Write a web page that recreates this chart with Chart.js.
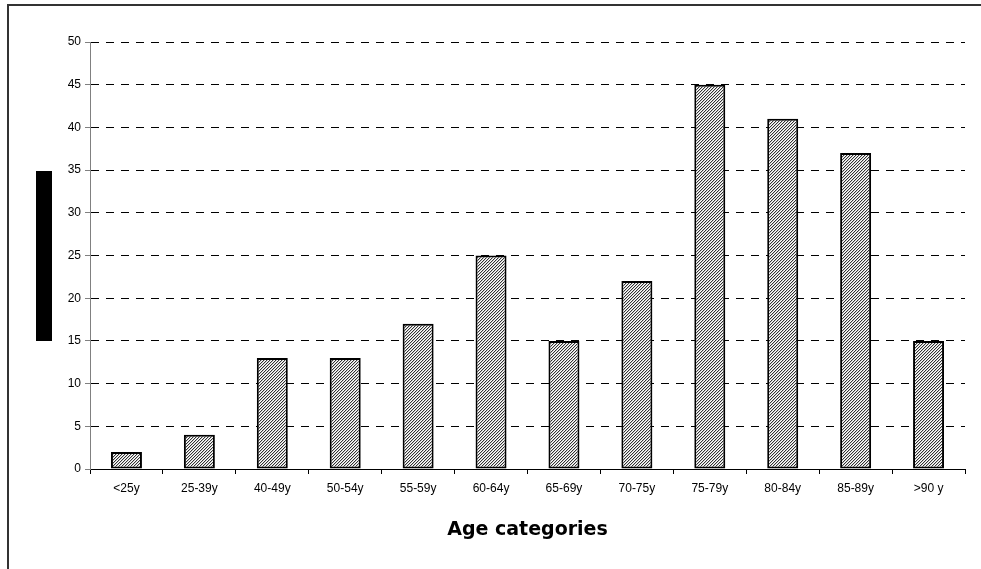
<!DOCTYPE html>
<html>
<head>
<meta charset="utf-8">
<script src="https://cdn.jsdelivr.net/npm/chart.js@4"></script>
<style>
  html, body { margin: 0; padding: 0; background: #fff; }
  #wrap { width: 981px; height: 569px; position: relative; }
</style>
</head>
<body>
<div id="wrap"><canvas id="ageChart"></canvas></div>
<script>
// data
const categories = ['<25y','25-39y','40-49y','50-54y','55-59y','60-64y','65-69y','70-75y','75-79y','80-84y','85-89y','>90 y'];
const counts = [2, 4, 13, 13, 17, 25, 15, 22, 45, 41, 37, 15];
const yTicks = [0, 5, 10, 15, 20, 25, 30, 35, 40, 45, 50];

// fine diagonal hatch for the bars
function hatch(){
  const c = document.createElement('canvas');
  c.width = 3; c.height = 3;
  const g = c.getContext('2d');
  g.fillStyle = '#fff';
  g.fillRect(0,0,3,3);
  for(let i=0;i<3;i++){
    g.fillStyle = '#333';
    g.fillRect(i, 2-i, 1, 1);
    g.fillStyle = '#c8c8c8';
    g.fillRect(i, (3-i)%3, 1, 1);
  }
  return g.createPattern(c, 'repeat');
}

// page frame + the blacked-out y title
const frame = {
  id: 'frame',
  beforeDraw(chart){
    const ctx = chart.ctx;
    ctx.save();
    ctx.fillStyle = '#fff';
    ctx.fillRect(0,0,chart.width,chart.height);
    ctx.strokeStyle = '#333';
    ctx.lineWidth = 2;
    ctx.beginPath();
    ctx.moveTo(8, chart.height);
    ctx.lineTo(8, 5);
    ctx.lineTo(chart.width, 5);
    ctx.stroke();
    ctx.fillStyle = '#000';
    ctx.fillRect(36, 171, 16, 170);
    ctx.restore();
  }
};

const ctx = document.getElementById('ageChart').getContext('2d');
new Chart(ctx, {
  type: 'bar',
  data: {
    labels: categories,
    datasets: [{
      data: counts,
      backgroundColor: hatch(),
      borderColor: '#000',
      borderWidth: 2,
      borderSkipped: false,
      categoryPercentage: 1,
      barPercentage: 0.425
    }]
  },
  options: {
    responsive: true,
    maintainAspectRatio: false,
    animation: false,
    layout: { padding: { left: 0, top: 42, right: 16, bottom: 0 } },
    plugins: { legend: { display: false }, tooltip: { enabled: false } },
    scales: {
      x: {
        grid: { drawOnChartArea: false, drawTicks: true, tickLength: 5, tickColor: '#000', offset: true },
        border: { display: true, color: '#000', width: 1 },
        ticks: { color: '#000', padding: 7, maxRotation: 0, autoSkip: false, font: { family: 'Liberation Sans, Arial', size: 12 } },
        title: {
          display: true,
          text: 'Age categories',
          color: '#000',
          font: { family: 'DejaVu Sans', size: 19, weight: 'bold' },
          padding: { top: 0, bottom: 28 }
        },
        afterFit(scale){ scale.height = 100; }
      },
      y: {
        min: 0,
        max: 50,
        afterBuildTicks(scale){ scale.ticks = yTicks.map(v => ({ value: v })); },
        grid: { color: '#000', lineWidth: 1, tickLength: 5, tickColor: '#808080' },
        border: { display: true, color: '#808080', width: 1, dash: [8, 7] },
        ticks: { color: '#000', padding: 4, font: { family: 'Liberation Sans, Arial', size: 12 } },
        afterFit(scale){ scale.width = 90; }
      }
    }
  },
  plugins: [frame]
});
</script>
</body>
</html>
